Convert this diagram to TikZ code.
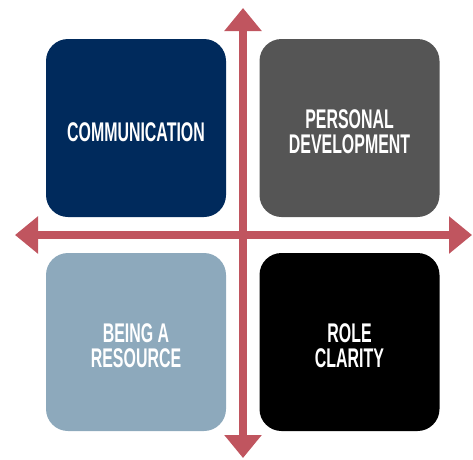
\documentclass[tikz,border=0pt]{standalone}
\usepackage{fontspec}
\newfontfamily\boxfont[FakeStretch=0.59]{Liberation Sans}
\usetikzlibrary{arrows.meta}
\definecolor{navy}{HTML}{002A5C}
\definecolor{slate}{HTML}{555555}
\definecolor{mist}{HTML}{8DA9BC}
\definecolor{axisred}{HTML}{C0555F}
\begin{document}
\begin{tikzpicture}[x=1pt, y=-1pt, quad/.style={rounded corners=22pt, minimum width=180pt, minimum height=178pt, inner sep=0pt, text=white, align=center, text depth=0pt, font=\boxfont\bfseries\fontsize{27pt}{25pt}\selectfont}, oneline/.style={quad, text height=26.3pt}, twoline/.style={quad, text height=51.3pt}, axis/.style={draw=axisred, line width=8pt, {Triangle[width=36pt,length=23pt]}-{Triangle[width=36pt,length=23pt]}}]
\useasboundingbox (0,0) rectangle (473,459);
\node [oneline, fill=navy] (comm) at (136,128) {COMMUNICATION};
\node [twoline, fill=slate] (pers) at (349.5,128) {PERSONAL\\DEVELOPMENT};
\node [twoline, fill=mist] (res) at (136,342) {BEING A\\RESOURCE};
\node [twoline, fill=black] (role) at (349.5,342) {ROLE\\CLARITY};
\coordinate (top) at (243,8);
\coordinate (bottom) at (243,458);
\coordinate (left) at (15,235);
\coordinate (right) at (472,235);
\draw [axis] (left) -- (right);
\draw [axis] (bottom) -- (top);
\end{tikzpicture}
\end{document}
